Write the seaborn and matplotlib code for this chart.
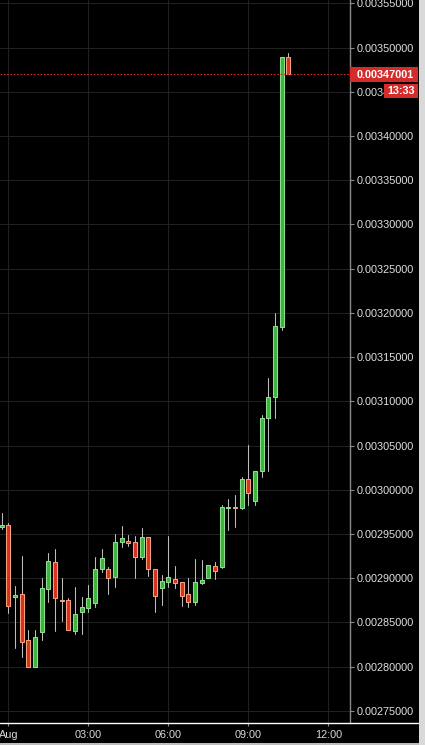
import numpy as np
import pandas as pd
import matplotlib
matplotlib.use("Agg")
import matplotlib.pyplot as plt
import seaborn as sns
from matplotlib.patches import Rectangle
from matplotlib.lines import Line2D

# ---------------- data (15-minute candles) ----------------
times = ["23:45", "00:00", "00:15", "00:30", "00:45", "01:00", "01:15", "01:30",
         "01:45", "02:00", "02:15", "02:30", "02:45", "03:00", "03:15", "03:30",
         "03:45", "04:00", "04:15", "04:30", "04:45", "05:00", "05:15", "05:30",
         "05:45", "06:00", "06:15", "06:30", "06:45", "07:00", "07:15", "07:30",
         "07:45", "08:00", "08:15", "08:30", "08:45", "09:00", "09:15", "09:30",
         "09:45", "10:00", "10:15", "10:30"]
opens = [0.0029579, 0.0029602, 0.0028788, 0.0028818, 0.0028302, 0.0028000, 0.0028389, 0.0028882,
         0.0029180, 0.0028756, 0.0028751, 0.0028407, 0.0028615, 0.0028667, 0.0028717, 0.0029101,
         0.0029101, 0.0029011, 0.0029406, 0.0029418, 0.0029406, 0.0029244, 0.0029463, 0.0029101,
         0.0028893, 0.0028961, 0.0028988, 0.0028961, 0.0028818, 0.0028735, 0.0028950, 0.0028997,
         0.0029138, 0.0029130, 0.0029796, 0.0029806, 0.0029798, 0.0030119, 0.0029877, 0.0030216,
         0.0030808, 0.0031053, 0.0031844, 0.0034897]
highs = [0.0029738, 0.0029628, 0.0028912, 0.0029251, 0.0028415, 0.0028415, 0.0029003, 0.0029289,
         0.0029327, 0.0029003, 0.0028780, 0.0028901, 0.0028791, 0.0028924, 0.0029237, 0.0029327,
         0.0029130, 0.0029497, 0.0029594, 0.0029489, 0.0029478, 0.0029565, 0.0029463, 0.0029101,
         0.0029037, 0.0029478, 0.0029138, 0.0028961, 0.0028999, 0.0029214, 0.0029206, 0.0029146,
         0.0029187, 0.0029828, 0.0029896, 0.0029941, 0.0030148, 0.0030507, 0.0030216, 0.0030846,
         0.0031261, 0.0031996, 0.0034897, 0.0034936]
lows = [0.0029557, 0.0028610, 0.0028211, 0.0028113, 0.0027997, 0.0027997, 0.0028302, 0.0028735,
        0.0028407, 0.0028520, 0.0028411, 0.0028370, 0.0028370, 0.0028615, 0.0028678, 0.0029074,
        0.0028818, 0.0028904, 0.0029357, 0.0029365, 0.0029006, 0.0029214, 0.0029029, 0.0028622,
        0.0028697, 0.0028904, 0.0028893, 0.0028690, 0.0028678, 0.0028697, 0.0028931, 0.0028997,
        0.0028988, 0.0029112, 0.0029545, 0.0029583, 0.0029780, 0.0029828, 0.0029828, 0.0030141,
        0.0030216, 0.0030808, 0.0031807, 0.0034700]
closes = [0.0029602, 0.0028686, 0.0028811, 0.0028276, 0.0028000, 0.0028336, 0.0028886, 0.0029195,
          0.0028780, 0.0028745, 0.0028411, 0.0028592, 0.0028675, 0.0028773, 0.0029101, 0.0029225,
          0.0028999, 0.0029406, 0.0029452, 0.0029395, 0.0029244, 0.0029471, 0.0029101, 0.0028803,
          0.0028969, 0.0029011, 0.0028950, 0.0028803, 0.0028735, 0.0028954, 0.0028977, 0.0029146,
          0.0029085, 0.0029802, 0.0029806, 0.0029796, 0.0030119, 0.0029960, 0.0030216, 0.0030808,
          0.0031053, 0.0031852, 0.0034897, 0.00347001]

ytick_values = [0.00275, 0.00280, 0.00285, 0.00290, 0.00295, 0.00300, 0.00305, 0.00310, 0.00315,
                0.00320, 0.00325, 0.00330, 0.00335, 0.00340, 0.00345, 0.00350, 0.00355]
xtick_hours = [0, 3, 6, 9, 12]
xtick_labels = ["Aug", "03:00", "06:00", "09:00", "12:00"]
last_price = 0.00347001
countdown = "13:33"

# ---------------- prepare ----------------
def to_hours(s):
    hh, mm = s.split(":")
    h = int(hh) + int(mm) / 60.0
    return h - 24 if h > 20 else h

df = pd.DataFrame({"t": [to_hours(s) for s in times], "open": opens, "high": highs,
                   "low": lows, "close": closes})
df["candle"] = np.arange(len(df))
df["up"] = df["close"] >= df["open"]

wicks = pd.concat([df[["t", "candle"]].assign(price=df["low"]),
                   df[["t", "candle"]].assign(price=df["high"])], ignore_index=True)

sns.set_theme(style="dark", rc={"axes.facecolor": "black", "figure.facecolor": "black"})
plt.rcParams["font.family"] = ["Liberation Sans", "DejaVu Sans"]

W, H = 425, 745
fig = plt.figure(figsize=(W / 100, H / 100), dpi=100)
fig.patch.set_facecolor("black")
ax_bottom = 22 / H
ax = fig.add_axes([0, ax_bottom, 350 / W, 723 / H])
ax.set_facecolor("black")

# wicks
sns.lineplot(data=wicks, x="t", y="price", units="candle", estimator=None,
             color="#bdbdbd", linewidth=0.75, ax=ax, legend=False, zorder=2)

# bodies
green_fill, green_edge = "#3db53d", "#8fdd8f"
red_fill, red_edge = "#d9311e", "#f5a27f"
fills = [green_fill if u else red_fill for u in df["up"]]
edges = [green_edge if u else red_edge for u in df["up"]]
ax.bar(df["t"], df["close"] - df["open"], bottom=df["open"], width=0.145,
       color=fills, edgecolor=edges, linewidth=0.75, zorder=3)

# axes limits / ticks
ax.set_xlim(-0.311, 12.814)
ax.set_ylim(0.0027363, 0.0035538)
ax.set_xlabel("")
ax.set_ylabel("")

ax.set_xticks(xtick_hours)
ax.set_xticklabels(xtick_labels)
ax.set_yticks(ytick_values)
ax.set_yticklabels([f"{v:.8f}" for v in ytick_values])
ax.yaxis.tick_right()
ax.tick_params(axis="y", colors="#8a8a8a", labelcolor="#e0e0e0", labelsize=7.8,
               length=2.9, width=0.8, pad=2.2, direction="out", right=True, left=False)
ax.tick_params(axis="x", colors="#8a8a8a", labelcolor="#d8d8d8", labelsize=7.8,
               length=2.0, width=0.8, pad=3.0, direction="out", bottom=True)

ax.grid(True, color="#202020", linewidth=0.8)
ax.set_axisbelow(True)
for side in ["top", "left", "bottom"]:
    ax.spines[side].set_visible(False)
ax.spines["right"].set_visible(True)
ax.spines["right"].set_color("#8a8a8a")
ax.spines["right"].set_linewidth(1.0)

# current price dotted line
ax.axhline(last_price, color="#d22a2a", linestyle=(0, (1.5, 1.5)), linewidth=0.8, zorder=4)

# bottom white line across plot and label panel
fig.add_artist(Line2D([0, 418 / W], [ax_bottom, ax_bottom], color="white", linewidth=1.0))
# right light strip
fig.add_artist(Rectangle((419 / W, 0), 6 / W, 1, facecolor="#d9d9d9", edgecolor="none"))
fig.add_artist(Rectangle((0, 0), 419 / W, 2 / H, facecolor="#bdbdbd", edgecolor="none"))

# price label boxes
y_pix = ax.transData.transform((0, last_price))[1]
box_h = 15
fig.add_artist(Rectangle((350 / W, (y_pix - box_h / 2 - 0.8) / H), 68 / W, box_h / H,
                         facecolor="#d42b2b", edgecolor="none", zorder=10))
fig.text(357 / W, (y_pix - 0.8) / H, f"{last_price:.8f}", color="white", fontsize=7.8,
         fontweight="bold", ha="left", va="center", zorder=11)
y2 = y_pix - box_h / 2 - 0.8 - 1.7 - 14
fig.add_artist(Rectangle((384 / W, y2 / H), 34 / W, 14 / H,
                         facecolor="#d42b2b", edgecolor="none", zorder=10))
fig.text(401 / W, (y2 + 7) / H, countdown, color="white", fontsize=7.8,
         fontweight="bold", ha="center", va="center", zorder=11)

fig.savefig("out.png", dpi=100, facecolor="black")
